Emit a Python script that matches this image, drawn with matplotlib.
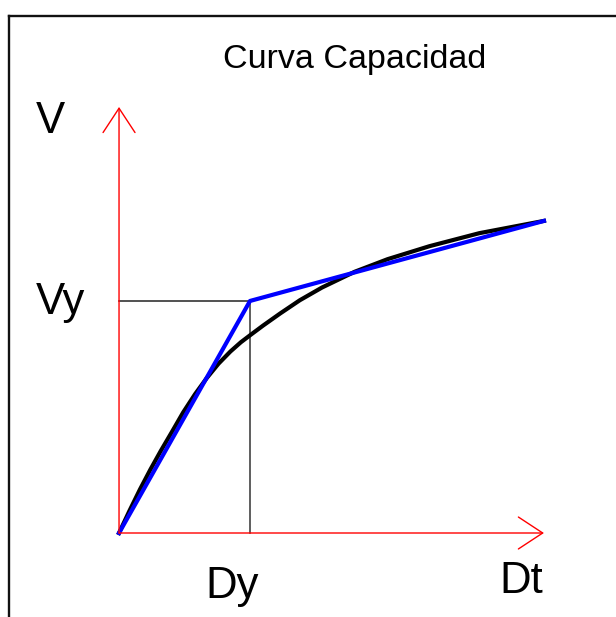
import matplotlib.pyplot as plt

# data (normalised so that Dy = 1 and Vy = 1)
dy_val = 1.0
vy_val = 1.0
dt_max = 3.244
v_max = 1.836

# capacity curve (black)
curve_d = [0.0, 0.08, 0.16, 0.24, 0.32, 0.40, 0.49, 0.58, 0.67, 0.76, 0.85, 0.93,
           1.00, 1.10, 1.23, 1.38, 1.55, 1.80, 2.05, 2.37, 2.75, 3.244]
curve_v = [0.0, 0.096, 0.188, 0.274, 0.355, 0.432, 0.520, 0.598, 0.668, 0.730, 0.782, 0.822,
           0.852, 0.894, 0.946, 1.003, 1.058, 1.126, 1.180, 1.236, 1.292, 1.345]

# bilinear idealisation (blue)
bilin_d = [0.0, dy_val, 3.244]
bilin_v = [0.0, vy_val, 1.345]

plt.rcParams['font.family'] = ['Liberation Sans', 'DejaVu Sans']

fig = plt.figure(figsize=(6.16, 6.17), dpi=100)
ax = fig.add_axes([9/616, 0, 1 - 9/616, 601/617])
ax.set_xlim(-0.840, 3.794)
ax.set_ylim(-0.362, 2.228)
ax.set_xticks([])
ax.set_yticks([])
for s in ['right', 'bottom']:
    ax.spines[s].set_visible(False)
for s in ['top', 'left']:
    ax.spines[s].set_linewidth(1.7)
    ax.spines[s].set_color('#111111')

# red axes with open arrow heads
arrow = dict(arrowstyle='->,head_length=1.75,head_width=1.15', color='red',
             lw=1.0, shrinkA=0, shrinkB=0, mutation_scale=10)
ax.annotate('', xy=(dt_max, 0), xytext=(0, 0), arrowprops=arrow)
ax.annotate('', xy=(0, v_max), xytext=(0, 0), arrowprops=arrow)

# yield reference lines
ax.plot([0, dy_val], [vy_val, vy_val], color='#222222', lw=1.1)
ax.plot([dy_val, dy_val], [0, vy_val], color='#333333', lw=1.1)

ax.plot(curve_d, curve_v, color='black', lw=3.0, solid_joinstyle='round')
ax.plot(bilin_d, bilin_v, color='blue', lw=3.0, solid_joinstyle='round')

ax.text(1.798, 2.004, 'Curva Capacidad', fontsize=24.5, ha='center', va='baseline')
ax.text(-0.634, 1.724, 'V', fontsize=31.5, ha='left', va='baseline')
ax.text(-0.634, 0.944, 'Vy', fontsize=31.5, ha='left', va='baseline')
ax.text(0.662, -0.280, 'Dy', fontsize=31.5, ha='left', va='baseline')
ax.text(2.900, -0.259, 'Dt', fontsize=31.5, ha='left', va='baseline')

fig.savefig('out.png', dpi=100)
